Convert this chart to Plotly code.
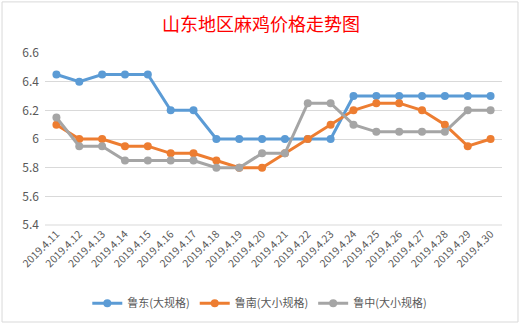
import plotly.graph_objects as go

dates = ["2019.4.11", "2019.4.12", "2019.4.13", "2019.4.14", "2019.4.15",
         "2019.4.16", "2019.4.17", "2019.4.18", "2019.4.19", "2019.4.20",
         "2019.4.21", "2019.4.22", "2019.4.23", "2019.4.24", "2019.4.25",
         "2019.4.26", "2019.4.27", "2019.4.28", "2019.4.29", "2019.4.30"]
ludong = [6.45, 6.4, 6.45, 6.45, 6.45, 6.2, 6.2, 6.0, 6.0, 6.0,
          6.0, 6.0, 6.0, 6.3, 6.3, 6.3, 6.3, 6.3, 6.3, 6.3]
lunan = [6.1, 6.0, 6.0, 5.95, 5.95, 5.9, 5.9, 5.85, 5.8, 5.8,
         5.9, 6.0, 6.1, 6.2, 6.25, 6.25, 6.2, 6.1, 5.95, 6.0]
luzhong = [6.15, 5.95, 5.95, 5.85, 5.85, 5.85, 5.85, 5.8, 5.8, 5.9,
           5.9, 6.25, 6.25, 6.1, 6.05, 6.05, 6.05, 6.05, 6.2, 6.2]
names = ["鲁东(大规格)", "鲁南(大小规格)", "鲁中(大小规格)"]
colors = ["#5B9BD5", "#ED7D31", "#A5A5A5"]
yticks = [5.4, 5.6, 5.8, 6.0, 6.2, 6.4, 6.6]
ytext = ["5.4", "5.6", "5.8", "6", "6.2", "6.4", "6.6"]

fig = go.Figure()
for name, vals, c in zip(names, [ludong, lunan, luzhong], colors):
    fig.add_trace(go.Scatter(x=dates, y=vals, name=name, mode="lines+markers",
                             line=dict(color=c, width=3),
                             marker=dict(color=c, size=8)))

font = "Noto Sans CJK SC"
fig.update_layout(
    width=522, height=325,
    margin=dict(l=45, r=20, t=53, b=100, autoexpand=False),
    paper_bgcolor="white", plot_bgcolor="white",
    font=dict(family=font, color="#595959", size=12),
    title=dict(text="山东地区麻鸡价格走势图", x=0.5, xanchor="center",
               y=0.925, yanchor="middle",
               font=dict(family=font, size=18, color="#FF0000")),
    showlegend=True,
    legend=dict(orientation="h", x=0.47, xanchor="center", y=-0.37, yanchor="top",
                font=dict(size=11, color="#595959"), itemwidth=30,
                tracegroupgap=0),
    xaxis=dict(type="category", tickangle=-45, showgrid=False, showline=False,
               ticks="", automargin=False,
               tickfont=dict(family=font, size=10.5, color="#595959"),
               range=[-0.5, 19.5]),
    yaxis=dict(range=[5.4, 6.6], tickvals=yticks, ticktext=ytext,
               showgrid=True, gridcolor="#D9D9D9", gridwidth=1,
               zeroline=False, showline=False, ticks="", automargin=False,
               ticklabelstandoff=5,
               tickfont=dict(family=font, size=12, color="#595959")),
    shapes=[dict(type="rect", xref="paper", yref="paper",
                 x0=-0.094, x1=1.035, y0=-0.564, y1=1.297,
                 line=dict(color="#D9D9D9", width=1)),
            dict(type="line", xref="paper", yref="paper",
                 x0=0, x1=1, y0=0, y1=0,
                 line=dict(color="#D9D9D9", width=1))],
)

fig.write_html("out.html")
